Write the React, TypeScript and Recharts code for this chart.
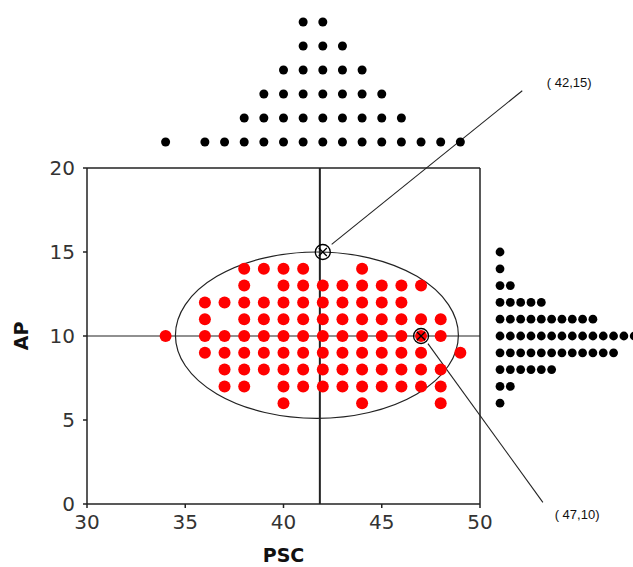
import { ReferenceArea, ReferenceDot, ReferenceLine, Scatter, ScatterChart, XAxis, YAxis } from 'recharts';

const pscTicks = [30, 35, 40, 45, 50];
const apTicks = [0, 5, 10, 15, 20];

// red dots, one row per AP value
const apRows = [14, 13, 12, 11, 10, 9, 8, 7, 6];
const pscInRow = [
  [38, 39, 40, 41, 44],
  [38, 40, 41, 42, 43, 44, 45, 46, 47],
  [36, 37, 38, 39, 40, 41, 42, 43, 44, 45, 46],
  [36, 38, 39, 40, 41, 42, 43, 44, 45, 46, 47, 48],
  [34, 36, 37, 38, 39, 40, 41, 42, 43, 44, 45, 46, 47, 48],
  [36, 37, 38, 39, 40, 41, 42, 43, 44, 45, 46, 47, 49],
  [37, 38, 39, 40, 41, 42, 43, 44, 45, 46, 47, 48],
  [37, 38, 40, 41, 42, 43, 44, 45, 46, 47, 48],
  [40, 44, 48],
];

// marginal dot histograms
const topPsc = [34, 36, 37, 38, 39, 40, 41, 42, 43, 44, 45, 46, 47, 48, 49];
const topCounts = [1, 1, 1, 2, 3, 4, 6, 6, 5, 4, 3, 2, 1, 1, 1];
const rightAp = [15, 14, 13, 12, 11, 10, 9, 8, 7, 6];
const rightCounts = [1, 1, 2, 5, 10, 14, 12, 6, 2, 1];

const markers = [{ x: 42, y: 15 }, { x: 47, y: 10 }];
const calloutLabels = ['( 42,15)', '( 47,10)'];
const calloutStarts = [[42.45, 15.45], [47.35, 9.55]];
const calloutEnds = [[52.15, 24.6], [53.2, 0.1]];
const labelAt = [[53.4, 25.1], [53.8, -0.65]];

const ellipseBox = { x1: 34.5, x2: 48.9, y1: 5.1, y2: 15 };
const crossX = 41.85;
const crossY = 10;

const redPoints = apRows.flatMap((ap, i) => pscInRow[i].map((psc) => ({ x: psc, y: ap })));
const topPoints = topPsc.flatMap((psc, i) => Array.from({ length: topCounts[i] }, (_, k) => ({ x: psc, y: k + 1 })));
const rightPoints = rightAp.flatMap((ap, i) => Array.from({ length: rightCounts[i] }, (_, k) => ({ x: k + 1, y: ap })));

const axisColor = '#222';
const tickStyle = { fontFamily: 'DejaVu Sans', fontSize: 20, fill: '#333' };
const labelStyle = { fontFamily: 'DejaVu Sans', fontSize: 19, fontWeight: 'bold', fill: '#111' };

const dot = (r: number, fill: string) => (p: any) => <circle cx={p.cx} cy={p.cy} r={r} fill={fill} />;

const Marker = (p: any) => (
  <g stroke="#000" strokeWidth={1.3} fill="none">
    <circle cx={p.cx} cy={p.cy} r={7.5} />
    <path d={`M${p.cx - 4},${p.cy - 4}L${p.cx + 4},${p.cy + 4}M${p.cx + 4},${p.cy - 4}L${p.cx - 4},${p.cy + 4}`} />
  </g>
);

const EllipseShape = (p: any) => (
  <ellipse cx={p.x + p.width / 2} cy={p.y + p.height / 2} rx={p.width / 2} ry={p.height / 2} fill="none" stroke={axisColor} strokeWidth={1.2} />
);

export default function App() {
  return (
    <div style={{ position: 'relative', width: 633, height: 567, overflow: 'hidden', background: '#fff' }}>
      <style>{'body{margin:0}'}</style>
      <div style={{ position: 'absolute', left: 0, top: 0 }}>
        <ScatterChart width={633} height={567} margin={{ top: 168, right: 153, bottom: 0, left: 12 }}>
          <XAxis
            type="number"
            dataKey="x"
            domain={[30, 50]}
            ticks={pscTicks}
            height={63}
            stroke={axisColor}
            strokeWidth={1.5}
            tickSize={4}
            tickMargin={7}
            tick={tickStyle}
            label={{ value: 'PSC', position: 'insideBottom', offset: 5, style: labelStyle }}
          />
          <YAxis
            type="number"
            dataKey="y"
            domain={[0, 20]}
            ticks={apTicks}
            width={75}
            stroke={axisColor}
            strokeWidth={1.5}
            tickSize={4}
            tickMargin={8}
            tick={tickStyle}
            label={{ value: 'AP', angle: -90, position: 'insideLeft', offset: 9, style: { ...labelStyle, textAnchor: 'middle' } }}
          />
          <ReferenceLine y={20} stroke={axisColor} strokeWidth={1.5} />
          <ReferenceLine x={50} stroke={axisColor} strokeWidth={1.5} />
          <Scatter data={redPoints} shape={dot(6, '#ff0000')} isAnimationActive={false} />
          <ReferenceArea {...ellipseBox} ifOverflow="visible" shape={EllipseShape} />
          <ReferenceLine x={crossX} stroke={axisColor} strokeWidth={2} />
          <ReferenceLine y={crossY} stroke={axisColor} strokeWidth={1.2} />
          {calloutEnds.map((end, i) => (
            <ReferenceLine
              key={`c${i}`}
              segment={[
                { x: calloutStarts[i][0], y: calloutStarts[i][1] },
                { x: end[0], y: end[1] },
              ]}
              stroke="#222"
              strokeWidth={1.1}
              ifOverflow="visible"
            />
          ))}
          {labelAt.map((pos, i) => (
            <ReferenceDot
              key={`l${i}`}
              x={pos[0]}
              y={pos[1]}
              ifOverflow="visible"
              shape={(p: any) => (
                <text x={p.cx} y={p.cy} dominantBaseline="central" fontFamily="Liberation Sans" fontSize={13} fill="#111">
                  {calloutLabels[i]}
                </text>
              )}
            />
          ))}
          <Scatter data={markers} shape={Marker} isAnimationActive={false} />
        </ScatterChart>
      </div>
      <div style={{ position: 'absolute', left: 0, top: 0 }}>
        <ScatterChart width={633} height={168} margin={{ top: 22, right: 153, bottom: 2, left: 87 }}>
          <XAxis type="number" dataKey="x" domain={[30, 50]} hide />
          <YAxis type="number" dataKey="y" domain={[0, 6]} hide />
          <Scatter data={topPoints} shape={dot(4.5, '#000')} isAnimationActive={false} />
        </ScatterChart>
      </div>
      <div style={{ position: 'absolute', left: 0, top: 0 }}>
        <ScatterChart width={640} height={567} margin={{ top: 168, right: 5.8, bottom: 63, left: 489.7 }}>
          <XAxis type="number" dataKey="x" domain={[0, 14]} hide />
          <YAxis type="number" dataKey="y" domain={[0, 20]} hide />
          <Scatter data={rightPoints} shape={dot(4.4, '#000')} isAnimationActive={false} />
        </ScatterChart>
      </div>
    </div>
  );
}
